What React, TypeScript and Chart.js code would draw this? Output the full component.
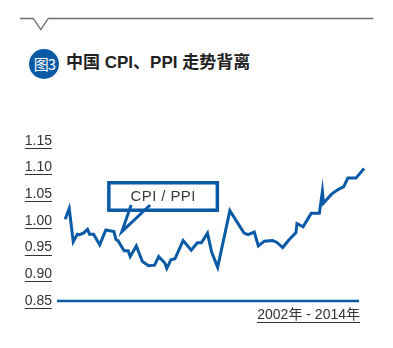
import React, { useEffect, useRef } from 'react';
import { Chart, registerables } from 'chart.js';

Chart.register(...registerables);

// months since Jan 2002
const months = [0, 2, 4, 6, 7, 9, 11, 12, 14, 17, 20, 24, 25, 26, 29, 31, 32, 35, 38, 41, 44, 46, 49, 50, 52, 54, 58, 62, 65, 67, 70, 72, 75, 81, 88, 90, 93, 95, 98, 102, 104, 107, 110, 113.5, 114, 117, 121, 125, 126.5, 127, 131, 134, 137, 139, 143, 147];
const ratio = [1.003, 1.023, 0.961, 0.975, 0.974, 0.977, 0.984, 0.975, 0.975, 0.955, 0.983, 0.980, 0.965, 0.963, 0.944, 0.944, 0.933, 0.953, 0.924, 0.916, 0.917, 0.933, 0.921, 0.911, 0.927, 0.929, 0.963, 0.945, 0.959, 0.959, 0.977, 0.942, 0.913, 1.019, 0.977, 0.974, 0.979, 0.953, 0.962, 0.963, 0.960, 0.950, 0.964, 0.978, 0.995, 0.989, 1.014, 1.014, 1.055, 1.033, 1.050, 1.058, 1.064, 1.080, 1.080, 1.098];
const yTicks = [0.85, 0.9, 0.95, 1.0, 1.05, 1.1, 1.15];
const titleText = '中国 CPI、PPI 走势背离';
const badgeText = '图3';
const seriesLabel = 'CPI / PPI';
const periodLabel = '2002年 - 2014年';

const BLUE = '#0b5aa6';
const TEXT = '#333333';
const LABEL_FONT = "'Liberation Sans', Arial, sans-serif";

const baselinePlugin = {
  id: 'baseline',
  afterDatasetsDraw(chart: any) {
    const { ctx, chartArea, scales } = chart;
    const y = scales.y.getPixelForValue(yTicks[0]);
    ctx.save();
    ctx.strokeStyle = BLUE;
    ctx.lineWidth = 2.5;
    ctx.beginPath();
    ctx.moveTo(chartArea.left, y);
    ctx.lineTo(chartArea.right, y);
    ctx.stroke();
    ctx.restore();
  },
};

const underlinePlugin = {
  id: 'underline',
  afterDraw(chart: any) {
    const { ctx } = chart;
    const ys = chart.scales.y;
    ctx.save();
    ctx.font = `14px ${LABEL_FONT}`;
    ctx.strokeStyle = TEXT;
    ctx.lineWidth = 1;
    ys.ticks.forEach((t: any) => {
      const label = Number(t.value).toFixed(2);
      const w = ctx.measureText(label).width;
      const xr = ys.right - 5;
      const yy = Math.round(ys.getPixelForValue(t.value) + 7) + 0.5;
      ctx.beginPath();
      ctx.moveTo(xr - w, yy);
      ctx.lineTo(xr, yy);
      ctx.stroke();
    });
    ctx.restore();
  },
};

const calloutPlugin = {
  id: 'callout',
  afterDatasetsDraw(chart: any) {
    const { ctx } = chart;
    const xs = chart.scales.x;
    const ys = chart.scales.y;
    const px = (m: number) => xs.getPixelForValue(m);
    const py = (v: number) => ys.getPixelForValue(v);
    const l = px(21.5), r = px(74.85), t = py(1.0713), b = py(1.0199);
    ctx.save();
    ctx.strokeStyle = BLUE;
    ctx.lineWidth = 3.5;
    ctx.strokeRect(l, t, r - l, b - t);
    ctx.lineWidth = 3;
    ctx.lineJoin = 'miter';
    ctx.beginPath();
    ctx.moveTo(px(32.45), py(1.0297));
    ctx.lineTo(px(27.88), py(0.9797));
    ctx.lineTo(px(41.8), py(1.0297));
    ctx.stroke();
    ctx.fillStyle = '#3a3a3a';
    ctx.font = `15px ${LABEL_FONT}`;
    ctx.textAlign = 'center';
    ctx.textBaseline = 'middle';
    (ctx as any).letterSpacing = '0.4px';
    ctx.fillText(seriesLabel, px(48.2), py(1.0446));
    ctx.restore();
  },
};

export default function App() {
  const ref = useRef<HTMLCanvasElement | null>(null);

  useEffect(() => {
    if (!ref.current) return;
    const chart = new Chart(ref.current, {
      type: 'line',
      data: {
        datasets: [
          {
            data: months.map((m, i) => ({ x: m, y: ratio[i] })),
            borderColor: BLUE,
            borderWidth: 3,
            pointRadius: 0,
            tension: 0,
            clip: false as any,
            fill: false,
          },
        ],
      },
      options: {
        responsive: false,
        animation: false,
        devicePixelRatio: 1,
        layout: { padding: { left: 0, right: 34, top: 140.7, bottom: 47 } },
        plugins: { legend: { display: false }, tooltip: { enabled: false }, title: { display: false } },
        scales: {
          x: { type: 'linear', min: -4, max: 144.5, display: false },
          y: {
            min: 0.85,
            max: 1.15,
            grid: { display: false, drawTicks: false },
            border: { display: false },
            afterBuildTicks: (s: any) => {
              s.ticks = yTicks.map((v) => ({ value: v }));
            },
            afterFit: (s: any) => {
              s.width = 57;
            },
            ticks: {
              padding: 5,
              color: TEXT,
              font: { size: 14, family: LABEL_FONT },
              callback: (v: any) => Number(v).toFixed(2),
            },
          },
        },
      },
      plugins: [baselinePlugin, calloutPlugin, underlinePlugin],
    } as any);
    return () => chart.destroy();
  }, []);

  return (
    <div style={{ position: 'fixed', left: 0, top: 0, width: 393, height: 348, background: '#fff', overflow: 'hidden' }}>
      <svg width={393} height={40} style={{ position: 'absolute', left: 0, top: 0 }}>
        <polyline points="20,18.5 33.3,18.5 40.8,29.5 48.3,18.5 373.3,18.5" fill="none" stroke="#6e6e6e" strokeWidth={1.3} />
      </svg>
      <div
        style={{
          position: 'absolute', left: 29.3, top: 49, width: 30, height: 30, borderRadius: '50%', background: BLUE,
          color: '#fff', fontFamily: "'Noto Sans CJK SC', sans-serif", fontSize: 15, lineHeight: '30px', textAlign: 'center',
          letterSpacing: -1,
        }}
      >
        {badgeText}
      </div>
      <div
        style={{
          position: 'absolute', left: 66, top: 52, height: 22, lineHeight: '22px', whiteSpace: 'nowrap',
          fontFamily: "'Liberation Sans', 'Noto Sans CJK SC', sans-serif", fontWeight: 700, fontSize: 17, color: '#222',
        }}
      >
        {titleText}
      </div>
      <canvas ref={ref} width={393} height={348} style={{ position: 'absolute', left: 0, top: 0, display: 'block' }} />
      <div
        style={{
          position: 'absolute', right: 33, top: 306, lineHeight: '16px', height: 16, whiteSpace: 'pre',
          fontFamily: "'Liberation Sans', 'Noto Sans CJK SC', sans-serif", fontSize: 14, color: TEXT,
          borderBottom: `1px solid ${TEXT}`,
        }}
      >
        {periodLabel}
      </div>
    </div>
  );
}
